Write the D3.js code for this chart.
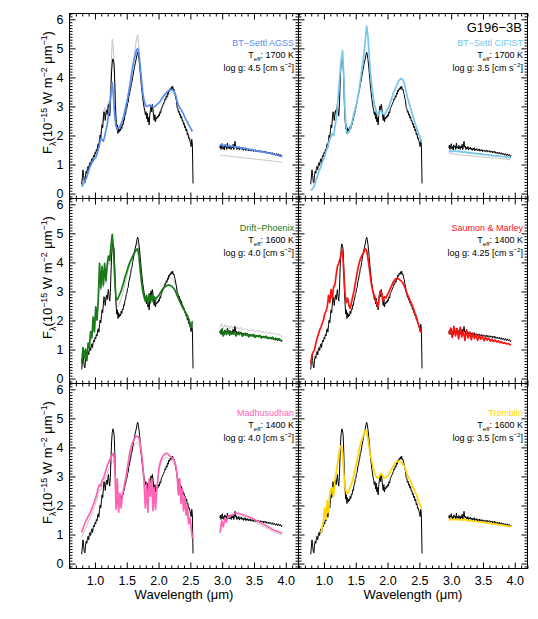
<!DOCTYPE html>
<html>
<head>
<meta charset="utf-8">
<script src="https://cdn.jsdelivr.net/npm/d3@7"></script>
<style>
body { margin: 0; background: #fff; }
text { font-family: "Liberation Sans", Arial, sans-serif; }
</style>
</head>
<body>
<script>
var width = 538,
    height = 619;

//panel grid
var left0 = 69, top0 = 13,
    pw = 229, ph = 185;

//---------------- data ----------------
//wavelength grids (micron)
var wlObsNIR = d3.range(80, 256).map(function(i) { return i / 100; });   //0.80 - 2.55
var wlObsL = d3.range(297, 396).map(function(i) { return i / 100; });    //2.97 - 3.95
var wlModNIR = d3.range(40, 128).map(function(i) { return i / 50; });    //0.80 - 2.54
var wlModL = d3.range(119, 159).map(function(i) { return i / 40; });     //2.975 - 3.95

//observed spectrum of G196-3B
var obsNIR = [
  0.30,0.55,0.80,0.60,0.40,0.35,0.62,0.75,0.68,0.85,
  0.92,0.80,0.98,1.05,0.95,1.10,1.18,1.05,1.22,1.30,
  1.25,1.40,1.35,1.50,1.45,1.62,1.70,1.58,1.85,2.00,
  1.90,2.15,2.35,2.25,2.55,2.80,2.70,2.50,2.75,2.85,
  2.70,2.90,3.05,2.80,2.65,2.95,3.60,4.20,4.50,4.62,
  4.55,4.40,3.80,3.00,2.55,2.20,2.35,2.05,2.25,2.10,
  2.20,2.15,2.30,2.22,2.38,2.35,2.52,2.50,2.68,2.72,
  2.88,2.92,3.08,3.12,3.32,3.38,3.52,3.60,3.78,3.82,
  3.98,4.10,4.22,4.35,4.45,4.55,4.65,4.78,4.85,4.75,
  4.60,4.40,4.15,3.90,3.65,3.45,3.25,3.10,2.95,2.85,
  2.70,2.80,2.55,2.75,2.45,2.60,2.35,2.70,2.85,3.00,
  2.80,3.05,2.90,2.65,2.50,2.70,2.45,2.60,2.55,2.65,
  2.60,2.70,2.65,2.80,2.75,2.90,2.95,3.00,3.05,3.10,
  3.15,3.25,3.22,3.35,3.30,3.45,3.40,3.55,3.50,3.60,
  3.56,3.66,3.58,3.68,3.55,3.58,3.45,3.40,3.25,3.18,
  2.95,2.92,2.78,2.82,2.68,2.72,2.58,2.64,2.48,2.50,
  2.36,2.40,2.25,2.30,2.14,2.20,2.00,2.05,1.88,1.90,
  1.80,1.72,1.60,1.85,1.65,0.33
];
var obsL = [
  1.55,1.65,1.50,1.62,1.70,1.52,1.60,1.48,1.66,1.58,
  1.62,1.50,1.72,1.55,1.60,1.52,1.64,1.56,1.50,1.62,
  1.55,1.68,1.50,1.60,1.78,1.58,1.62,1.50,1.57,1.52,
  1.60,1.48,1.56,1.52,1.58,1.50,1.55,1.47,1.54,1.50,
  1.56,1.46,1.52,1.48,1.53,1.45,1.50,1.47,1.52,1.44,
  1.49,1.46,1.50,1.43,1.48,1.45,1.47,1.42,1.46,1.44,
  1.48,1.41,1.45,1.43,1.46,1.40,1.44,1.42,1.45,1.38,
  1.43,1.40,1.44,1.37,1.42,1.39,1.36,1.41,1.38,1.35,
  1.40,1.36,1.33,1.39,1.35,1.32,1.37,1.34,1.30,1.36,
  1.32,1.29,1.35,1.31,1.28,1.33,1.29,1.25,1.30
];

//model names, colours and parameters
var modelNames = ["BT\u2212Settl AGSS", "BT\u2212Settl CIFIST", "Drift\u2212Phoenix",
                  "Saumon & Marley", "Madhusudhan", "Tremblin"];
var modelColors = ["#5b8def", "#74c6ea", "#177a17", "#ff1212", "#ff64b4", "#ffd400"];
var teffs = [1700, 1700, 1600, 1400, 1400, 1600];
var loggs = ["4.5", "3.5", "4.0", "4.25", "4.0", "3.5"];

//best fit models, near-IR (0.02 micron grid)
var agssNIR = [
  0.22,0.30,0.36,0.45,0.55,0.70,0.85,0.95,1.05,1.12,
  1.18,1.22,1.35,1.50,1.68,1.88,1.85,1.78,1.95,2.15,
  2.35,2.70,3.05,3.45,3.80,3.30,2.60,2.30,2.20,2.25,
  2.30,2.38,2.50,2.65,2.85,3.05,3.25,3.50,3.75,4.05,
  4.35,4.55,4.75,4.92,4.98,4.80,4.35,3.90,3.45,3.20,
  3.05,2.98,3.00,3.03,3.02,3.00,2.98,2.97,3.00,3.05,
  3.08,3.12,3.18,3.25,3.32,3.38,3.43,3.48,3.52,3.55,
  3.56,3.55,3.52,3.48,3.35,3.15,3.02,2.95,2.88,2.80,
  2.72,2.62,2.52,2.45,2.35,2.28,2.20,2.12
];
var cifistNIR = [
  0.10,0.12,0.18,0.28,0.40,0.55,0.68,0.80,0.92,1.05,
  1.15,1.28,1.42,1.55,1.70,1.85,1.95,2.05,1.98,2.25,
  2.55,3.00,3.55,4.10,4.60,4.90,4.00,2.80,2.15,2.05,
  2.10,2.20,2.35,2.55,2.75,2.90,3.05,3.30,3.55,3.85,
  4.20,4.50,4.85,5.30,5.75,5.40,4.70,4.10,3.70,3.35,
  3.05,2.90,2.75,2.68,2.80,2.85,2.78,2.72,2.70,2.78,
  2.85,2.92,3.05,3.18,3.32,3.45,3.55,3.65,3.75,3.85,
  3.90,3.95,3.92,3.85,3.70,3.50,3.30,3.15,3.00,2.85,
  2.70,2.55,2.40,2.28,2.15,2.02,1.90,1.75
];
var driftNIR = [
  0.50,1.05,0.70,1.00,0.60,1.20,1.05,1.60,1.40,2.10,
  1.60,2.45,2.00,2.70,3.95,3.10,3.85,3.20,3.95,3.35,
  3.90,4.20,4.05,4.55,4.95,4.40,3.40,2.70,2.70,2.80,
  2.90,3.00,3.15,3.30,3.48,3.60,3.75,3.88,4.00,4.10,
  4.18,4.28,4.35,4.42,4.45,4.20,3.70,3.30,3.00,2.80,
  2.65,2.85,2.55,2.90,2.60,2.85,2.65,2.80,2.70,2.78,
  2.82,2.88,2.95,3.02,3.08,3.12,3.16,3.18,3.20,3.20,
  3.18,3.15,3.10,3.05,2.95,2.85,2.75,2.65,2.55,2.45,
  2.38,2.30,2.22,2.15,2.05,1.90,1.75,1.95
];
var smNIR = [
  0.50,0.80,0.90,0.98,1.20,1.35,1.50,1.65,1.75,1.88,
  2.00,2.20,2.30,2.45,2.85,2.60,3.05,2.75,3.15,3.20,
  3.55,3.85,3.95,4.10,4.30,4.40,3.60,2.90,2.60,2.75,
  2.50,2.40,2.60,2.80,3.00,3.25,3.50,3.75,3.95,4.10,
  4.20,4.28,4.35,4.45,4.40,4.10,3.80,3.45,3.15,2.95,
  2.85,2.70,2.55,2.45,2.85,3.00,2.85,2.65,2.80,2.75,
  2.85,2.92,3.02,3.12,3.22,3.32,3.38,3.42,3.43,3.42,
  3.38,3.35,3.30,3.22,3.12,3.00,2.88,2.78,2.68,2.58,
  2.48,2.35,2.22,2.10,1.95,1.80,1.68,1.55
];
var madNIR = [
  1.05,1.20,1.32,1.42,1.50,1.60,1.68,1.78,1.88,2.00,
  2.12,2.25,2.40,2.60,2.70,2.65,2.85,2.90,3.05,3.20,
  3.35,3.45,3.55,3.65,3.72,3.78,3.40,1.85,2.90,1.75,
  2.40,1.90,2.35,2.55,2.80,3.00,3.30,3.60,3.85,4.02,
  4.15,4.25,4.32,4.36,4.37,4.30,4.10,3.80,3.40,2.80,
  1.90,2.70,1.75,2.90,2.30,2.90,1.80,2.60,1.85,2.50,
  3.00,3.35,3.50,3.62,3.70,3.74,3.77,3.78,3.75,3.70,
  3.66,3.62,3.58,3.50,3.35,3.00,2.35,2.90,2.05,2.55,
  1.80,2.30,1.65,2.00,1.35,1.55,1.20,0.85
];
var tremNIR = [
  null,null,null,null,null,null,null,null,1.05,1.25,
  1.45,1.90,1.50,2.15,1.75,2.40,2.55,2.60,2.30,2.85,
  3.10,3.40,3.70,3.95,4.05,3.80,3.10,2.60,2.45,2.40,
  2.50,2.62,2.72,2.85,3.05,3.25,3.45,3.68,3.90,4.08,
  4.22,4.35,4.48,4.58,4.50,4.25,3.95,3.70,3.50,3.30,
  3.12,3.02,2.95,2.92,3.00,3.08,3.05,2.95,2.92,2.95,
  2.98,3.02,3.10,3.18,3.27,3.35,3.42,3.47,3.50,3.51,
  3.50,3.48,3.44,3.38,3.30,3.15,3.02,2.94,2.85,2.76,
  2.66,2.56,2.46,2.36,2.25,2.12,2.00,1.88
];

//best fit models, L band (0.025 micron grid)
var agssL = [
  1.64,1.68,1.62,1.66,1.63,1.61,1.64,1.60,1.62,1.58,
  1.60,1.57,1.58,1.55,1.56,1.53,1.54,1.51,1.52,1.49,
  1.50,1.47,1.48,1.45,1.45,1.43,1.43,1.41,1.41,1.39,
  1.38,1.37,1.36,1.34,1.33,1.32,1.30,1.29,1.27,1.25
];
var cifistL = [
  1.40,1.48,1.42,1.46,1.44,1.42,1.45,1.41,1.43,1.40,
  1.42,1.39,1.40,1.38,1.39,1.37,1.37,1.36,1.36,1.34,
  1.35,1.33,1.33,1.32,1.32,1.30,1.31,1.29,1.29,1.28,
  1.28,1.27,1.27,1.26,1.25,1.25,1.24,1.23,1.23,1.22
];
var driftL = [
  1.55,1.68,1.45,1.62,1.50,1.65,1.48,1.58,1.52,1.60,
  1.45,1.55,1.50,1.57,1.44,1.52,1.47,1.53,1.42,1.49,
  1.45,1.50,1.40,1.46,1.42,1.47,1.38,1.43,1.40,1.44,
  1.36,1.40,1.37,1.41,1.33,1.37,1.34,1.36,1.30,1.27
];
var smL = [
  1.50,1.72,1.40,1.78,1.45,1.70,1.35,1.75,1.42,1.62,
  1.30,1.66,1.38,1.58,1.32,1.55,1.36,1.50,1.30,1.47,
  1.34,1.44,1.29,1.40,1.31,1.37,1.27,1.34,1.26,1.31,
  1.24,1.28,1.22,1.25,1.20,1.22,1.18,1.19,1.16,1.14
];
var madL = [
  1.05,1.45,1.25,1.55,1.40,1.62,1.58,1.66,1.65,1.70,
  1.72,1.71,1.70,1.69,1.67,1.65,1.63,1.61,1.59,1.57,
  1.55,1.52,1.49,1.46,1.43,1.40,1.37,1.34,1.31,1.28,
  1.25,1.22,1.19,1.16,1.13,1.11,1.09,1.07,1.05,1.03
];
var tremL = [
  1.45,1.55,1.48,1.52,1.50,1.49,1.51,1.48,1.50,1.47,
  1.53,1.46,1.47,1.45,1.46,1.44,1.44,1.43,1.42,1.42,
  1.41,1.40,1.39,1.39,1.38,1.37,1.36,1.35,1.35,1.34,
  1.33,1.32,1.31,1.31,1.30,1.29,1.28,1.27,1.26,1.25
];

//second fits drawn in grey
var altAgssNIR = [
  0.35,0.55,0.50,0.60,0.70,0.85,0.95,1.00,1.10,1.20,
  1.30,1.38,1.48,1.65,1.85,2.05,2.40,2.70,2.95,2.80,
  2.90,3.15,3.00,4.20,5.30,4.90,3.60,2.50,2.20,2.15,
  2.20,2.30,2.40,2.55,2.75,2.95,3.20,3.45,3.75,4.05,
  4.35,4.65,4.95,5.30,5.45,5.00,4.30,3.70,3.30,3.00,
  2.80,2.65,2.60,2.55,2.75,2.85,2.80,2.60,2.55,2.60,
  2.65,2.70,2.78,2.88,2.98,3.08,3.18,3.26,3.33,3.40,
  3.45,3.48,3.45,3.38,3.25,3.05,2.85,2.75,2.65,2.55,
  2.45,2.35,2.25,2.12,2.00,1.90,1.75,1.65
];
var altDriftNIR = [
  0.40,0.90,0.60,0.85,0.70,1.10,1.00,1.45,1.30,1.90,
  1.55,2.25,1.95,2.55,3.60,3.00,3.60,3.10,3.75,3.25,
  3.70,4.00,3.90,4.40,4.80,4.30,3.20,2.50,2.45,2.50,
  2.60,2.72,2.88,3.05,3.25,3.42,3.60,3.78,3.95,4.10,
  4.22,4.35,4.48,4.60,4.65,4.35,3.80,3.30,2.95,2.75,
  2.60,2.75,2.50,2.80,2.55,2.80,2.60,2.72,2.65,2.72,
  2.78,2.86,2.95,3.05,3.14,3.22,3.30,3.36,3.41,3.44,
  3.45,3.43,3.38,3.30,3.18,3.02,2.88,2.76,2.64,2.52,
  2.44,2.35,2.26,2.18,2.08,1.95,1.80,1.98
];
var altMadNIR = [
  0.90,1.00,1.10,1.20,1.30,1.40,1.50,1.60,1.70,1.82,
  1.95,2.08,2.22,2.40,2.55,2.50,2.65,2.72,2.85,2.98,
  3.10,3.22,3.32,3.42,3.50,3.52,3.20,2.10,2.70,2.00,
  2.35,2.05,2.35,2.55,2.75,2.95,3.20,3.45,3.65,3.82,
  3.95,4.05,4.12,4.15,4.15,4.08,3.90,3.62,3.25,2.75,
  2.05,2.65,1.95,2.80,2.35,2.80,2.00,2.55,2.00,2.50,
  2.95,3.25,3.40,3.52,3.58,3.62,3.64,3.64,3.62,3.58,
  3.55,3.52,3.48,3.40,3.25,2.95,2.40,2.85,2.15,2.55,
  1.90,2.30,1.75,2.00,1.45,1.60,1.30,0.95
];
var altAgssL = [
  1.28,1.32,1.27,1.30,1.28,1.26,1.28,1.25,1.27,1.24,
  1.25,1.23,1.24,1.22,1.22,1.21,1.21,1.20,1.20,1.18,
  1.19,1.17,1.17,1.16,1.16,1.15,1.15,1.14,1.13,1.13,
  1.12,1.11,1.11,1.10,1.09,1.09,1.08,1.07,1.06,1.05
];
var altCifistL = [
  1.32,1.38,1.33,1.36,1.34,1.32,1.34,1.31,1.32,1.30,
  1.31,1.29,1.30,1.28,1.28,1.27,1.27,1.26,1.26,1.25,
  1.25,1.24,1.24,1.23,1.23,1.22,1.22,1.21,1.21,1.20,
  1.20,1.19,1.19,1.18,1.18,1.17,1.17,1.16,1.15,1.14
];
var altDriftL = [
  1.75,1.88,1.70,1.84,1.74,1.82,1.70,1.80,1.72,1.78,
  1.68,1.75,1.70,1.74,1.65,1.71,1.66,1.70,1.62,1.67,
  1.63,1.66,1.59,1.63,1.60,1.63,1.56,1.60,1.57,1.59,
  1.53,1.56,1.53,1.55,1.50,1.52,1.49,1.50,1.46,1.43
];
var altMadL = [
  1.20,1.40,1.30,1.50,1.42,1.55,1.53,1.58,1.58,1.62,
  1.63,1.63,1.62,1.61,1.59,1.57,1.55,1.53,1.51,1.49,
  1.47,1.44,1.41,1.38,1.35,1.32,1.29,1.26,1.23,1.20,
  1.17,1.14,1.11,1.09,1.07,1.05,1.03,1.01,0.99,0.97
];

//axis ticks
var xMajor = [1.0, 1.5, 2.0, 2.5, 3.0, 3.5, 4.0];
var yMajor = [0, 1, 2, 3, 4, 5, 6];

//panel table built from the arrays above
var panels = [
  {nir: agssNIR, l: agssL, altNir: altAgssNIR, altL: altAgssL},
  {nir: cifistNIR, l: cifistL, altNir: null, altL: altCifistL},
  {nir: driftNIR, l: driftL, altNir: altDriftNIR, altL: altDriftL},
  {nir: smNIR, l: smL, altNir: null, altL: null},
  {nir: madNIR, l: madL, altNir: altMadNIR, altL: altMadL},
  {nir: tremNIR, l: tremL, altNir: null, altL: null}
];

//---------------- drawing ----------------
var svg = d3.select("body").append("svg")
    .attr("width", width)
    .attr("height", height);

var x = d3.scaleLinear().domain([0.6, 4.2]).range([0, pw]);
var y = d3.scaleLinear().domain([-0.17, 6.2]).range([ph, 0]);

var xMinor = d3.range(6, 43).map(function(i) { return i / 10; })
    .filter(function(v) { return Math.abs(v * 2 - Math.round(v * 2)) > 1e-6; });
var yMinor = d3.range(-1, 63).map(function(i) { return i / 10; })
    .filter(function(v) { return Math.abs(v - Math.round(v)) > 1e-6; });

var line = d3.line()
    .defined(function(d) { return d[1] != null; })
    .x(function(d) { return x(d[0]); })
    .y(function(d) { return y(d[1]); });

function pairs(wl, flux) {
  return wl.map(function(w, i) { return [w, flux[i]]; });
}

function drawSpec(g, wl, flux, color, lw) {
  if (!flux) return;
  g.append("path")
    .attr("d", line(pairs(wl, flux)))
    .attr("fill", "none")
    .attr("stroke", color)
    .attr("stroke-width", lw)
    .attr("stroke-linejoin", "round");
}

//text with sub / superscripts: parts = [[string, "", "sub" or "sup"], ...]
function richText(t, parts, fs) {
  var shift = 0;
  parts.forEach(function(p) {
    var target = p[1] == "sup" ? -fs * 0.42 : (p[1] == "sub" ? fs * 0.28 : 0);
    t.append("tspan")
      .attr("dy", target - shift)
      .attr("font-size", p[1] ? fs * 0.68 : fs)
      .text(p[0]);
    shift = target;
  });
}

panels.forEach(function(p, i) {
  var col = i % 2,
      row = Math.floor(i / 2);
  var g = svg.append("g")
      .attr("transform", "translate(" + (left0 + col * pw) + "," + (top0 + row * ph) + ")");

  //spectra: grey alternative, observed, model
  drawSpec(g, wlModNIR, p.altNir, "#c4c4c4", 1);
  drawSpec(g, wlModL, p.altL, "#c4c4c4", 1);
  drawSpec(g, wlObsNIR, obsNIR, "#000", 1);
  drawSpec(g, wlObsL, obsL, "#000", 1);
  drawSpec(g, wlModNIR, p.nir, modelColors[i], 1.7);
  drawSpec(g, wlModL, p.l, modelColors[i], 1.7);

  //frame
  g.append("rect")
    .attr("x", 0.5).attr("y", 0.5)
    .attr("width", pw).attr("height", ph)
    .attr("fill", "none")
    .attr("stroke", "#000")
    .attr("stroke-width", 1);

  //ticks on all four sides, pointing in
  var axes = [
    {ax: d3.axisBottom(x), tr: "translate(0.5," + (ph + 0.5) + ")", major: xMajor, minor: xMinor, lab: row == 2},
    {ax: d3.axisTop(x), tr: "translate(0.5,0.5)", major: xMajor, minor: xMinor, lab: false},
    {ax: d3.axisLeft(y), tr: "translate(0.5,0.5)", major: yMajor, minor: yMinor, lab: col == 0},
    {ax: d3.axisRight(y), tr: "translate(" + (pw + 0.5) + ",0.5)", major: yMajor, minor: yMinor, lab: false}
  ];
  axes.forEach(function(a, k) {
    var minorG = g.append("g").attr("transform", a.tr)
        .call(a.ax.tickValues(a.minor).tickSize(-3).tickSizeOuter(0).tickFormat(""));
    minorG.select(".domain").remove();
    var fmt = k < 2 ? d3.format(".1f") : d3.format("d");
    var majorG = g.append("g").attr("transform", a.tr)
        .call(a.ax.tickValues(a.major).tickSize(-6).tickSizeOuter(0)
              .tickPadding(k < 2 ? 8 : 6)
              .tickFormat(a.lab ? fmt : ""));
    majorG.select(".domain").remove();
    majorG.selectAll("text")
      .attr("font-size", 12.5)
      .attr("font-family", "'Liberation Sans', Arial, sans-serif")
      .attr("fill", "#000");
  });

  //legend
  var lx = pw - 4;
  g.append("text")
    .attr("x", lx).attr("y", 32.5)
    .attr("text-anchor", "end")
    .attr("font-size", 9)
    .attr("fill", modelColors[i])
    .text(modelNames[i]);
  var t1 = g.append("text")
    .attr("x", lx).attr("y", 45)
    .attr("text-anchor", "end")
    .attr("fill", "#000");
  richText(t1, [["T", ""], ["eff", "sub"], [": " + teffs[i] + " K", ""]], 9);
  var t2 = g.append("text")
    .attr("x", lx).attr("y", 57.5)
    .attr("text-anchor", "end")
    .attr("fill", "#000");
  richText(t2, [["log g: " + loggs[i] + " [cm s", ""], ["\u22122", "sup"], ["]", ""]], 9);

  if (i == 1) {
    g.append("text")
      .attr("x", lx - 1).attr("y", 19)
      .attr("text-anchor", "end")
      .attr("font-size", 13)
      .attr("fill", "#000")
      .text("G196\u22123B");
  }

  //y axis title on the left column
  if (col == 0) {
    var yt = svg.append("text")
      .attr("transform", "translate(52," + (top0 + row * ph + ph / 2 - 13) + ") rotate(-90)")
      .attr("text-anchor", "middle")
      .attr("fill", "#000");
    richText(yt, [["F", ""], ["\u03bb", "sub"], ["(10", ""], ["\u221215", "sup"], [" W m", ""],
                  ["\u22122", "sup"], [" \u03bcm", ""], ["\u22121", "sup"], [")", ""]], 13);
  }
});

//x axis titles
[0, 1].forEach(function(col) {
  svg.append("text")
    .attr("x", left0 + col * pw + pw / 2 + 0.5)
    .attr("y", top0 + 3 * ph + 31)
    .attr("text-anchor", "middle")
    .attr("font-size", 13)
    .attr("fill", "#000")
    .text("Wavelength (\u03bcm)");
});
</script>
</body>
</html>
